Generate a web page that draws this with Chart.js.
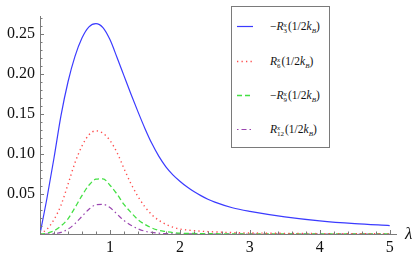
<!DOCTYPE html>
<html>
<head>
<meta charset="utf-8">
<script src="https://cdn.jsdelivr.net/npm/chart.js@4"></script>
<style>
html,body{margin:0;padding:0;background:#fff;}
#wrap{position:relative;width:415px;height:262px;}
#legend{position:absolute;left:231px;top:6px;width:99px;height:142px;border:1px solid #7a7a7a;background:#fff;box-sizing:border-box;font-family:"Liberation Serif","Times New Roman",serif;}
.row{position:absolute;left:0;width:99px;height:16px;}
.row svg{position:absolute;left:4px;top:0;}
.txt{position:absolute;left:38px;top:1px;font-size:11.5px;line-height:14px;white-space:nowrap;color:#111;}
.ss{display:inline-block;vertical-align:-3px;font-size:7px;line-height:6px;text-align:left;margin-right:1px;}
.ss span{display:block;}
.sb{font-size:7px;vertical-align:-3px;}
</style>
</head>
<body>
<div id="wrap">
<canvas id="c" width="415" height="262"></canvas>
<div id="legend">
  <div class="row" style="top:11px"><svg width="18" height="16"><line x1="1" y1="8.5" x2="17" y2="8.5" stroke="#3b3bff" stroke-width="1.2"/></svg>
    <span class="txt">−<i>R</i><span class="ss"><span><i>x</i></span><span>3</span></span>(1/2<i>k</i><i class="sb">B</i>)</span></div>
  <div class="row" style="top:46px"><svg width="18" height="16"><line x1="1" y1="8.5" x2="17" y2="8.5" stroke="#ff4d4d" stroke-width="1.3" stroke-dasharray="1.3 3.2"/></svg>
    <span class="txt"><i>R</i><span class="ss"><span><i>x</i></span><span>6</span></span>(1/2<i>k</i><i class="sb">B</i>)</span></div>
  <div class="row" style="top:80px"><svg width="18" height="16"><line x1="1" y1="8.5" x2="17" y2="8.5" stroke="#44e044" stroke-width="1.3" stroke-dasharray="5 3"/></svg>
    <span class="txt">−<i>R</i><span class="ss"><span><i>x</i></span><span>9</span></span>(1/2<i>k</i><i class="sb">B</i>)</span></div>
  <div class="row" style="top:114px"><svg width="18" height="16"><line x1="1" y1="8.5" x2="17" y2="8.5" stroke="#9a45b0" stroke-width="1.2" stroke-dasharray="1.5 3 5 3"/></svg>
    <span class="txt"><i>R</i><span class="ss"><span><i>x</i></span><span>12</span></span>(1/2<i>k</i><i class="sb">B</i>)</span></div>
</div>
</div>
<script>
// λ sample points
const lambda = [0,0.1,0.2,0.3,0.4,0.5,0.6,0.7,0.8,0.9,1.0,1.1,1.2,1.3,1.4,1.5,1.6,1.7,1.8,1.9,2.0,2.1,2.2,2.3,2.4,2.5,2.75,3,3.5,4,4.5,5];
// -R3
const seriesR3 = [0,0.045,0.095,0.148,0.19,0.222,0.245,0.259,0.263,0.258,0.243,0.221,0.198,0.175,0.153,0.132,0.113,0.097,0.084,0.074,0.066,0.059,0.053,0.048,0.0435,0.0398,0.0328,0.0283,0.0215,0.0165,0.013,0.0105];
// R6
const seriesR6 = [0,0.006,0.018,0.036,0.062,0.089,0.11,0.124,0.129,0.126,0.117,0.102,0.082,0.063,0.047,0.034,0.024,0.017,0.012,0.0085,0.0062,0.005,0.0042,0.0035,0.003,0.0026,0.0018,0.0013,0.0008,0.0005,0.0003,0.0002];
// -R9
const seriesR9 = [0,0.001,0.004,0.01,0.019,0.033,0.048,0.061,0.0685,0.069,0.061,0.05,0.037,0.027,0.018,0.012,0.0075,0.0045,0.003,0.0018,0.001,0.0008,0.0006,0.0005,0.0004,0.0003,0.0002,0.0001,0,0,0,0];
// R12
const seriesR12 = [0,0,0.0005,0.002,0.006,0.013,0.022,0.031,0.0365,0.037,0.033,0.025,0.017,0.011,0.0065,0.0035,0.002,0.001,0.0005,0.0003,0.0002,0.0001,0.0001,0,0,0,0,0,0,0,0,0];

const xTickLabels = [1,2,3,4,5];
const yTickLabels = [0.05,0.10,0.15,0.20,0.25];

const pts = arr => lambda.map((l,i)=>({x:l,y:arr[i]}));

const axisPlugin = {
  id:'axisExtras',
  afterDraw(chart){
    const ctx = chart.ctx, xs = chart.scales.x, ys = chart.scales.y;
    const a = chart.chartArea;
    ctx.save();
    ctx.strokeStyle = '#7a7a7a';
    ctx.lineWidth = 1;
    ctx.beginPath();
    for(let i=0;i<=25;i++){
      const v = i*0.2;
      const px = Math.round(xs.getPixelForValue(v))+0.5;
      const len = (i%5===0)?4:2.5;
      ctx.moveTo(px,a.bottom); ctx.lineTo(px,a.bottom-len);
    }
    for(let i=0;i<=27;i++){
      const v = i*0.01;
      const py = Math.round(ys.getPixelForValue(v))+0.5;
      const len = (i%5===0)?4:2.5;
      ctx.moveTo(a.left,py); ctx.lineTo(a.left+len,py);
    }
    ctx.stroke();
    ctx.fillStyle = '#111';
    ctx.font = 'italic 17px "Liberation Serif", serif';
    ctx.textAlign = 'left';
    ctx.textBaseline = 'middle';
    ctx.fillText('λ', a.right+9, a.bottom+1);
    ctx.restore();
  }
};

new Chart(document.getElementById('c'),{
  type:'line',
  data:{
    datasets:[
      {label:'-R3', data:pts(seriesR3), borderColor:'#3b3bff', borderWidth:1.2},
      {label:'R6', data:pts(seriesR6), borderColor:'#ff4d4d', borderWidth:1.4, borderDash:[1.3,3.2]},
      {label:'-R9', data:pts(seriesR9), borderColor:'#44e044', borderWidth:1.3, borderDash:[5,3]},
      {label:'R12', data:pts(seriesR12), borderColor:'#9a45b0', borderWidth:1.2, borderDash:[1.5,3,5,3]}
    ]
  },
  options:{
    responsive:false,
    animation:false,
    elements:{point:{radius:0}, line:{cubicInterpolationMode:'monotone', fill:false}},
    layout:{padding:{top:16,right:19,left:0,bottom:0}},
    plugins:{legend:{display:false}, tooltip:{enabled:false}},
    scales:{
      x:{type:'linear', min:0, max:5.09,
        grid:{display:false, drawTicks:false},
        border:{display:true, color:'#7a7a7a', width:1},
        afterBuildTicks:s=>{s.ticks = xTickLabels.map(v=>({value:v}));},
        afterFit:s=>{s.height = 28;},
        ticks:{padding:4, color:'#111', font:{family:'"Liberation Serif", serif', size:16}, maxRotation:0, callback:v=>String(v)}
      },
      y:{type:'linear', min:0, max:0.2725,
        grid:{display:false, drawTicks:false},
        border:{display:true, color:'#7a7a7a', width:1},
        afterBuildTicks:s=>{s.ticks = yTickLabels.map(v=>({value:v}));},
        afterFit:s=>{s.width = 40;},
        ticks:{padding:5, color:'#111', font:{family:'"Liberation Serif", serif', size:16}, callback:v=>Number(v).toFixed(2)}
      }
    }
  },
  plugins:[axisPlugin]
});
</script>
</body>
</html>
